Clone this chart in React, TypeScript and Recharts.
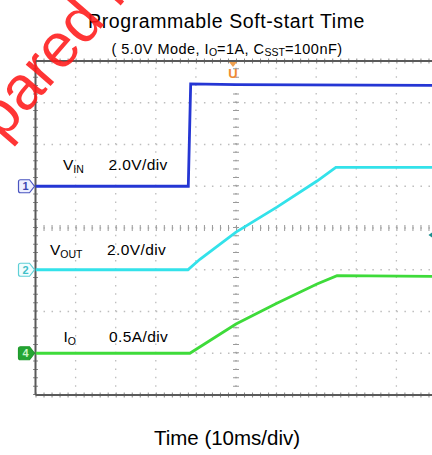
import React from "react";
import { LineChart, Line, XAxis, YAxis, ReferenceLine, ReferenceDot } from "recharts";

// ---- data ----
const vinTimeMs = [-50, -11.9, -11.3, 0, 50];
const vinVolts = [0, 0, 4.9, 4.87, 4.83];

const voutTimeMs = [-50, -12, -9, 0, 10.2, 20.2, 24.9, 50];
const voutVolts = [0, 0, 0.5, 1.8, 3.0, 4.25, 4.9, 4.9];

const ioTimeMs = [-50, -11.5, 0, 10.2, 20.2, 25.2, 50];
const ioAmps = [0, 0, 0.35, 0.6, 0.83, 0.93, 0.92];

// channel settings: per-division scale and ground offset (divisions from centre)
const channelScale = { ch1: 2, ch2: 2, ch4: 0.5 };
const channelOffsetDiv = { ch1: 1, ch2: -1, ch4: -3 };

const timeDomain = [-50, 50];
const gridTimes = [-40, -30, -20, -10, 10, 20, 30, 40];
const gridDivs = [-3, -2, -1, 1, 2, 3];

const FONT = "'Liberation Sans', Arial, Helvetica, sans-serif";

const toRows = (ts: number[], vs: number[]) => ts.map((t, i) => ({ t, v: vs[i] }));
const vinData = toRows(vinTimeMs, vinVolts);
const voutData = toRows(voutTimeMs, voutVolts);
const ioData = toRows(ioTimeMs, ioAmps);

const domainFor = (ch: "ch1" | "ch2" | "ch4") => [
  (-4 - channelOffsetDiv[ch]) * channelScale[ch],
  (4 - channelOffsetDiv[ch]) * channelScale[ch],
];

const ChannelTag = (color: string, fill: string, textColor: string, label: string) => (props: any) => {
  const { cx, cy } = props;
  const l = cx - 17;
  const r = cx - 1;
  const d = `M${l + 2},${cy - 6.5} L${r - 5},${cy - 6.5} L${r},${cy} L${r - 5},${cy + 6.5} L${l + 2},${cy + 6.5} Q${l},${cy + 6.5} ${l},${cy + 4.5} L${l},${cy - 4.5} Q${l},${cy - 6.5} ${l + 2},${cy - 6.5} Z`;
  return (
    <g>
      <path d={d} fill={fill} stroke={color} strokeWidth={1.2} />
      <text x={l + 7} y={cy + 4} fontSize={11} fontFamily={FONT} fontWeight="bold" fill={textColor} textAnchor="middle">
        {label}
      </text>
    </g>
  );
};

const TriggerMarker = (props: any) => {
  const { cx, cy } = props;
  const x = cx - 3;
  return (
    <g>
      <path d={`M${x - 4},${cy + 1} L${x + 4},${cy + 1} L${x},${cy + 6} Z`} fill="#f0a050" />
      <text x={x} y={cy + 17} fontSize={13} fontWeight="bold" fontFamily={FONT} fill="#f08a30" textAnchor="middle">
        U
      </text>
    </g>
  );
};

const LevelMarker = (props: any) => {
  const { cx, cy } = props;
  return <path d={`M${cx},${cy} L${cx + 7},${cy - 5} L${cx + 7},${cy + 5} Z`} fill="#1b8f8f" />;
};

const sub = (s: string, size = 10, top = 3) => (
  <span style={{ fontSize: size, position: "relative", top, letterSpacing: 0 }}>{s}</span>
);

const abs = (left: number, baseline: number, size: number, extra: React.CSSProperties = {}) => ({
  position: "absolute" as const,
  left,
  top: baseline - 0.8465 * size,
  fontSize: size,
  lineHeight: `${size}px`,
  fontFamily: FONT,
  color: "#000",
  whiteSpace: "nowrap" as const,
  ...extra,
});

export default function App() {
  return (
    <div style={{ position: "absolute", left: 0, top: 0, width: 432, height: 455, overflow: "hidden", background: "#fff" }}>
      <LineChart width={445} height={455} margin={{ top: 61, right: 8.5, bottom: 60, left: 35.5 }}>
        <XAxis xAxisId={0} type="number" dataKey="t" domain={timeDomain} hide allowDataOverflow />
        <YAxis yAxisId="div" type="number" domain={[-4, 4]} hide allowDataOverflow />
        <YAxis yAxisId="ch1" type="number" domain={domainFor("ch1")} hide allowDataOverflow />
        <YAxis yAxisId="ch2" type="number" domain={domainFor("ch2")} hide allowDataOverflow />
        <YAxis yAxisId="ch4" type="number" domain={domainFor("ch4")} hide allowDataOverflow />

        {gridTimes.map((t) => (
          <ReferenceLine key={`gx${t}`} x={t} yAxisId="div" stroke="#bdbdbd" strokeWidth={1.3} strokeDasharray="1.5 6.85" />
        ))}
        {gridDivs.map((d) => (
          <ReferenceLine key={`gy${d}`} y={d} yAxisId="div" stroke="#bdbdbd" strokeWidth={1.3} strokeDasharray="1.5 6.52" />
        ))}
        <ReferenceLine x={0} yAxisId="div" stroke="#9a9a9a" strokeWidth={1.2} strokeDasharray="1.5 6.85" />
        <ReferenceLine x={0} yAxisId="div" stroke="#9a9a9a" strokeWidth={6} strokeDasharray="1 7.35" />
        <ReferenceLine y={0} yAxisId="div" stroke="#9a9a9a" strokeWidth={1.2} strokeDasharray="1.5 6.52" />
        <ReferenceLine y={0} yAxisId="div" stroke="#9a9a9a" strokeWidth={6} strokeDasharray="1 7.02" />

        <ReferenceLine x={-50} yAxisId="div" stroke="#888" strokeWidth={5} strokeDasharray="1 7.35" />
        <ReferenceLine y={4} yAxisId="div" stroke="#888" strokeWidth={5} strokeDasharray="1 7.02" />
        <ReferenceLine y={-4} yAxisId="div" stroke="#888" strokeWidth={5} strokeDasharray="1 7.02" />
        <ReferenceLine x={-50} yAxisId="div" stroke="#5a5a5a" strokeWidth={2} />
        <ReferenceLine y={4} yAxisId="div" stroke="#5a5a5a" strokeWidth={2} />
        <ReferenceLine y={-4} yAxisId="div" stroke="#5a5a5a" strokeWidth={2} />

        <Line data={vinData} yAxisId="ch1" dataKey="v" type="linear" stroke="#2536d4" strokeWidth={2.8} dot={false} isAnimationActive={false} />
        <Line data={voutData} yAxisId="ch2" dataKey="v" type="linear" stroke="#33e2ea" strokeWidth={2.8} dot={false} isAnimationActive={false} />
        <Line data={ioData} yAxisId="ch4" dataKey="v" type="linear" stroke="#3edb3a" strokeWidth={2.8} dot={false} isAnimationActive={false} />

        <ReferenceDot x={-50} y={channelOffsetDiv.ch1} yAxisId="div" ifOverflow="visible" shape={ChannelTag("#4a55c0", "#eef0ff", "#3a45b0", "1")} />
        <ReferenceDot x={-50} y={channelOffsetDiv.ch2} yAxisId="div" ifOverflow="visible" shape={ChannelTag("#5fd0d6", "#f2feff", "#40c0c8", "2")} />
        <ReferenceDot x={-50} y={channelOffsetDiv.ch4} yAxisId="div" ifOverflow="visible" shape={ChannelTag("#1f9a2c", "#24a533", "#c9f5c9", "4")} />
        <ReferenceDot x={0} y={4} yAxisId="div" ifOverflow="visible" shape={TriggerMarker} />
        <ReferenceDot x={48} y={-0.17} yAxisId="div" ifOverflow="visible" shape={LevelMarker} />
      </LineChart>

      <div style={abs(226.5, 28.3, 19.5, { transform: "translateX(-50%)", letterSpacing: 0.6 })}>Programmable Soft-start Time</div>
      <div style={abs(227, 54.3, 14.5, { transform: "translateX(-50%)", letterSpacing: 0.45 })}>
        ( 5.0V Mode, I{sub("O", 10.5, 2)}=1A, C{sub("SST", 10.5, 2)}=100nF)
      </div>

      <div style={abs(63, 170, 15.5)}>V{sub("IN", 10.5)}</div>
      <div style={abs(108.5, 170, 15.5, { letterSpacing: 0.4 })}>2.0V/div</div>
      <div style={abs(50, 255.5, 15.5)}>V{sub("OUT", 10.5)}</div>
      <div style={abs(107, 255.5, 15.5, { letterSpacing: 0.4 })}>2.0V/div</div>
      <div style={abs(63.5, 342, 15.5)}>I{sub("O", 10.5)}</div>
      <div style={abs(109, 342, 15.5, { letterSpacing: 0.4 })}>0.5A/div</div>

      <div style={abs(227, 445, 20.5, { transform: "translateX(-50%)" })}>Time (10ms/div)</div>

      <div
        style={{
          position: "absolute",
          left: -99.6,
          top: 180,
          fontSize: 62,
          lineHeight: "62px",
          fontFamily: FONT,
          color: "rgba(255,25,25,0.88)",
          whiteSpace: "nowrap",
          transform: "rotate(-49deg)",
          transformOrigin: "0 0",
          pointerEvents: "none",
        }}
      >
        Prepared by
      </div>
    </div>
  );
}
